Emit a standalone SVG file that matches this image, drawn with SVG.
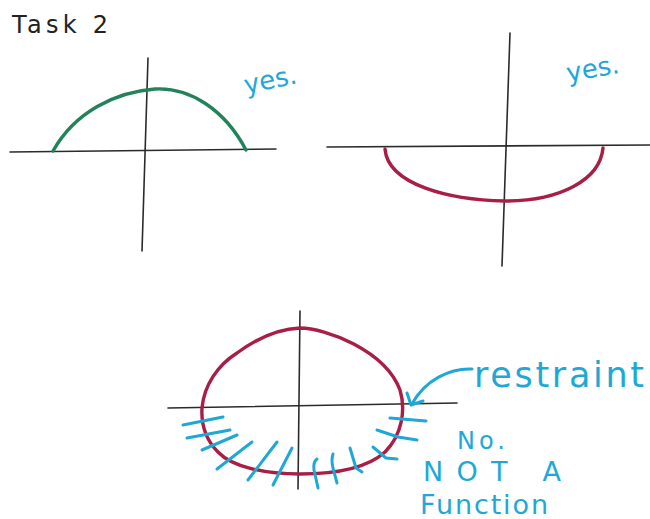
<svg xmlns="http://www.w3.org/2000/svg" width="650" height="519" viewBox="0 0 650 519">
<style>
.axis{stroke:#2b2b2b;stroke-width:1.6;fill:none;stroke-linecap:round}
.green{stroke:#22835a;stroke-width:3.4;fill:none;stroke-linecap:round}
.red{stroke:#a81e45;stroke-width:3.4;fill:none;stroke-linecap:round;stroke-linejoin:round}
.hatch{stroke:#1fa8d6;stroke-width:3;fill:none;stroke-linecap:round;stroke-linejoin:round}
.note{fill:#1fa8d6;font-family:"DejaVu Sans","Liberation Sans",sans-serif}
.title{fill:#222;font-family:"DejaVu Sans","Liberation Sans",sans-serif}
</style>
<rect width="650" height="519" fill="#ffffff"/>
<text class="title" x="12" y="33" font-size="24" textLength="96" lengthAdjust="spacing">Task 2</text>

<g id="plot1">
  <line class="axis" x1="10" y1="152" x2="276" y2="149"/>
  <line class="axis" x1="148" y1="58" x2="142" y2="251"/>
  <path class="green" d="M53,151 C75,112 115,92 155,89 C190,87 225,110 246,150"/>
  <text class="note" x="246" y="94" font-size="26" transform="rotate(-12 246 94)">yes.</text>
</g>

<g id="plot2">
  <line class="axis" x1="327" y1="147" x2="650" y2="145"/>
  <line class="axis" x1="510" y1="33" x2="502" y2="266"/>
  <path class="red" d="M385,149 C388,185 450,200 505,201 C560,201 600,180 603,148"/>
  <text class="note" x="568" y="82" font-size="26" transform="rotate(-10 568 82)">yes.</text>
</g>

<g id="plot3">
  <line class="axis" x1="168" y1="408" x2="457" y2="403"/>
  <line class="axis" x1="300" y1="311" x2="298" y2="489"/>
  <path class="red" d="M300,328 C325,328 385,350 400,390 C406,410 402,435 385,452 C365,470 330,474 300,474 C265,474 232,467 218,452 C206,440 201,425 202,408 C204,385 218,365 237,353 C252,342 275,329 300,328 Z"/>
  <g id="hatches">
    <path class="hatch" d="M183,425 L223,417"/>
    <path class="hatch" d="M187,438 L230,430"/>
    <path class="hatch" d="M202,450 L237,435"/>
    <path class="hatch" d="M217,469 L252,442"/>
    <path class="hatch" d="M248,480 L277,442"/>
    <path class="hatch" d="M273,485 L292,448"/>
    <path class="hatch" d="M317,459 Q313,462 314,470 L318,488"/>
    <path class="hatch" d="M333,454 Q331,460 333,468 L337,483"/>
    <path class="hatch" d="M350,448 L356,468 L362,472"/>
    <path class="hatch" d="M373,447 L386,458 L397,459"/>
    <path class="hatch" d="M377,430 L398,437 L417,440"/>
    <path class="hatch" d="M390,418 L426,421"/>
  </g>
  <g id="arrow">
    <path class="hatch" d="M472,369 C450,368 425,380 412,404"/>
    <path class="hatch" stroke-width="3.6" d="M407,393 L411,405 L423,401"/>
  </g>
  <text class="note" x="474" y="387" font-size="35" textLength="170" lengthAdjust="spacing">restraint</text>
  <text class="note" x="457" y="449" font-size="24" textLength="48" lengthAdjust="spacing">No.</text>
  <text class="note" x="423" y="481" font-size="27" textLength="138" lengthAdjust="spacing">NOT A</text>
  <text class="note" x="420" y="514" font-size="27" textLength="128" lengthAdjust="spacing">Function</text>
</g>
</svg>
